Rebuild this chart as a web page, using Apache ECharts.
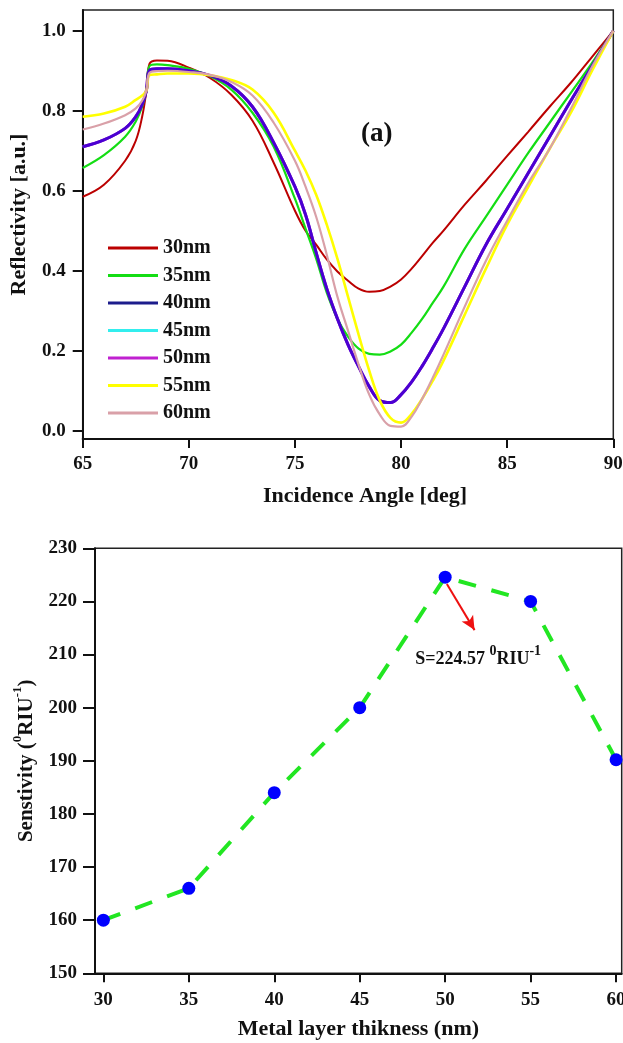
<!DOCTYPE html>
<html>
<head>
<meta charset="utf-8">
<script src="https://cdn.jsdelivr.net/npm/echarts@6/dist/echarts.min.js"></script>
<style>
html,body{margin:0;padding:0;background:#fff;}
#c{width:623px;height:1043px;}
</style>
</head>
<body>
<div id="c"></div>
<script>
// ---------- Panel (a): reflectivity vs incidence angle ----------
const angles = [65,66,67,67.5,67.8,68.0,68.15,68.5,69,70,71,72,73,74,75,75.5,76,76.5,77,77.5,78,78.5,79,79.5,80,80.5,81,81.5,82,83,84,85,86,87,88,89,90];
const r30 = [0.585,0.615,0.675,0.725,0.785,0.85,0.918,0.926,0.925,0.908,0.882,0.84,0.775,0.67,0.55,0.50,0.465,0.428,0.398,0.375,0.355,0.347,0.349,0.36,0.378,0.405,0.437,0.47,0.50,0.565,0.625,0.687,0.748,0.81,0.87,0.935,1.0];
const r35 = [0.657,0.689,0.735,0.773,0.81,0.85,0.912,0.916,0.914,0.905,0.886,0.853,0.795,0.71,0.58,0.505,0.43,0.345,0.28,0.235,0.205,0.192,0.19,0.198,0.215,0.245,0.28,0.32,0.36,0.455,0.535,0.615,0.695,0.77,0.845,0.92,1.0];
const r40 = [0.71,0.727,0.756,0.785,0.815,0.85,0.902,0.905,0.905,0.9,0.888,0.862,0.81,0.72,0.61,0.54,0.445,0.355,0.28,0.215,0.16,0.11,0.075,0.07,0.09,0.122,0.162,0.207,0.255,0.36,0.465,0.555,0.645,0.735,0.825,0.912,1.0];
const r45 = [0.71,0.727,0.756,0.785,0.815,0.85,0.902,0.905,0.905,0.9,0.888,0.862,0.81,0.72,0.61,0.54,0.445,0.355,0.28,0.215,0.16,0.11,0.075,0.07,0.09,0.122,0.162,0.207,0.255,0.36,0.465,0.555,0.645,0.735,0.825,0.912,1.0];
const r50 = [0.71,0.727,0.756,0.785,0.815,0.85,0.902,0.905,0.905,0.9,0.888,0.862,0.81,0.72,0.61,0.54,0.445,0.355,0.28,0.215,0.16,0.11,0.075,0.07,0.09,0.122,0.162,0.207,0.255,0.36,0.465,0.555,0.645,0.735,0.825,0.912,1.0];
const r55 = [0.785,0.793,0.81,0.827,0.838,0.85,0.889,0.891,0.893,0.893,0.889,0.877,0.853,0.795,0.70,0.65,0.59,0.515,0.43,0.335,0.24,0.15,0.075,0.032,0.02,0.042,0.08,0.125,0.175,0.29,0.405,0.515,0.61,0.705,0.795,0.9,1.0];
const r60 = [0.753,0.768,0.789,0.806,0.825,0.85,0.895,0.899,0.9,0.897,0.89,0.872,0.838,0.77,0.675,0.61,0.535,0.44,0.335,0.25,0.165,0.09,0.04,0.012,0.01,0.035,0.08,0.133,0.19,0.31,0.425,0.525,0.62,0.705,0.805,0.91,1.0];
const legendNames = ['30nm','35nm','40nm','45nm','50nm','55nm','60nm'];
const reflTicks = [0,0.2,0.4,0.6,0.8,1.0];

// ---------- Panel (b): sensitivity vs thickness ----------
const thickness = [30,35,40,45,50,55,60];
const sensitivity = [160,166,184,200,224.57,220,190.2];
const thickTicks = [30,35,40,45,50,55,60];
const arrowFrom = [50.1,223.3];
const arrowTo = [51.72,214.6];
const notePos = [51.93,209.6];

const FF = '"Liberation Serif","Times New Roman",serif';
const axisLine = {show:true, onZero:false, lineStyle:{color:'#111', width:2}};
const axisTick = {show:true, inside:false, length:9, lineStyle:{color:'#111', width:2}};
const lbl = {fontSize:19, fontWeight:'bold', color:'#111', fontFamily:FF};

function curve(name, arr, color, width, z){
  return {
    name:name, type:'line', xAxisIndex:0, yAxisIndex:0,
    data: angles.map((a,i)=>[a, arr[i]]),
    symbol:'none', smooth:0.4,
    color:color, itemStyle:{color:color}, lineStyle:{color:color, width:width}, z:z, silent:true
  };
}

const chart = echarts.init(document.getElementById('c'), null, {renderer:'canvas'});
chart.setOption({
  animation:false,
  backgroundColor:'#fff',
  textStyle:{fontFamily:FF},
  grid:[
    {left:82.7, top:10, width:530.6, height:429, show:true, borderColor:'#222', borderWidth:1.5, outerBoundsMode:'none', containLabel:false},
    {left:95, top:548.3, width:526.7, height:425, show:true, borderColor:'#222', borderWidth:1.5, outerBoundsMode:'none', containLabel:false}
  ],
  xAxis:[
    {type:'value', gridIndex:0, min:65, max:90, interval:5,
     axisLine:axisLine, axisTick:axisTick, splitLine:{show:false},
     axisLabel:Object.assign({margin:16}, lbl),
     name:'Incidence Angle [deg]', nameLocation:'middle', nameGap:46,
     nameTextStyle:{fontSize:22, fontWeight:'bold', color:'#111', fontFamily:FF, padding:[0,0,0,34]}},
    {type:'value', gridIndex:1, min:29.51, max:60.33,
     axisLine:axisLine, axisTick:Object.assign({}, axisTick, {customValues:thickTicks}), splitLine:{show:false},
     axisLabel:Object.assign({margin:17, customValues:thickTicks}, lbl),
     name:'Metal layer thikness (nm)', nameLocation:'middle', nameGap:45,
     nameTextStyle:{fontSize:22, fontWeight:'bold', color:'#111', fontFamily:FF}}
  ],
  yAxis:[
    {type:'value', gridIndex:0, min:-0.021, max:1.052,
     axisLine:axisLine, axisTick:Object.assign({}, axisTick, {length:10, customValues:reflTicks}), splitLine:{show:false},
     axisLabel:Object.assign({margin:17, customValues:reflTicks, formatter:v=>Number(v).toFixed(1)}, lbl),
     name:'Reflectivity [a.u.]', nameLocation:'middle', nameGap:52,
     nameTextStyle:{fontSize:22, fontWeight:'bold', color:'#111', fontFamily:FF, padding:[0,0,0,20]}},
    {type:'value', gridIndex:1, min:150, max:230, interval:10,
     axisLine:axisLine, axisTick:Object.assign({}, axisTick, {length:12}), splitLine:{show:false},
     axisLabel:Object.assign({margin:18}, lbl),
     name:'{t|Senstivity (}{s|0}{t|RIU}{s|-1}{t|)}', nameLocation:'middle', nameGap:58,
     nameTextStyle:{fontSize:21, fontWeight:'bold', color:'#111', fontFamily:FF,
       rich:{
         t:{fontSize:21, fontWeight:'bold', color:'#111', fontFamily:FF, lineHeight:26, verticalAlign:'bottom'},
         s:{fontSize:13, fontWeight:'bold', color:'#111', fontFamily:FF, lineHeight:13, verticalAlign:'top'}
       }}}
  ],
  legend:{
    orient:'vertical', left:108, top:238, padding:0, itemWidth:50, itemHeight:3, itemGap:7.5,
    icon:'rect', selectedMode:false,
    textStyle:{fontSize:20, fontWeight:'bold', color:'#111', fontFamily:FF, lineHeight:20},
    data:[
      {name:'30nm'},{name:'35nm'},
      {name:'40nm', itemStyle:{color:'#1c1c8c'}},
      {name:'45nm'},{name:'50nm'},{name:'55nm'},{name:'60nm'}
    ]
  },
  graphic:[
    {type:'text', left:361, top:121, silent:true,
     style:{text:'(a)', font:'bold 27px "Liberation Serif", serif', fill:'#111'}}
  ],
  series:[
    curve('30nm', r30, '#bb0000', 2, 2),
    curve('35nm', r35, '#14dd14', 2.2, 2),
    curve('45nm', r45, '#33eeee', 2.5, 1),
    curve('50nm', r50, '#c020d0', 3, 1),
    curve('40nm', r40, '#4a00d2', 3, 3),
    curve('55nm', r55, '#ffff00', 2.6, 4),
    curve('60nm', r60, '#d9a0a8', 2.2, 5),
    {
      name:'Sensitivity', type:'line', xAxisIndex:1, yAxisIndex:1,
      data: thickness.map((t,i)=>[t, sensitivity[i]]),
      symbol:'circle', symbolSize:13, showAllSymbol:true,
      itemStyle:{color:'#0000ff'},
      lineStyle:{color:'#22e622', width:4, type:[18,16], cap:'butt'},
      silent:true, z:3,
      markLine:{
        silent:true, symbol:['none','arrow'], symbolSize:[10,14], animation:false,
        lineStyle:{color:'#ee1111', width:2, type:'solid'},
        label:{show:false}, emphasis:{disabled:true},
        data:[[{coord:arrowFrom},{coord:arrowTo}]]
      },
      markPoint:{
        silent:true, symbol:'circle', symbolSize:1, animation:false,
        itemStyle:{color:'rgba(0,0,0,0)'},
        label:{show:true, position:'inside', formatter:'{a|S=224.57 }{s|0}{a|RIU}{s|-1}',
          rich:{
            a:{fontSize:18, fontWeight:'bold', color:'#111', fontFamily:FF, lineHeight:24, verticalAlign:'bottom'},
            s:{fontSize:14, fontWeight:'bold', color:'#111', fontFamily:FF, lineHeight:14, verticalAlign:'top'}
          }},
        data:[{coord:notePos}]
      }
    }
  ]
});
</script>
</body>
</html>
